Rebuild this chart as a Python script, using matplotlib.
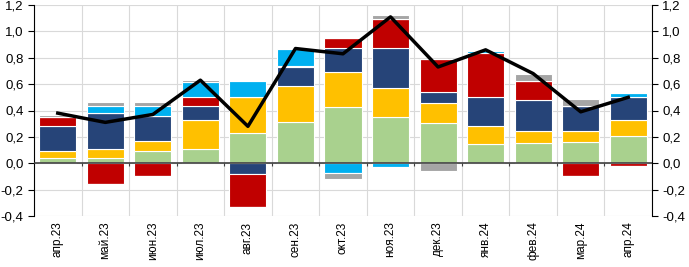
import matplotlib.pyplot as plt
import matplotlib.ticker as mticker
import numpy as np

plt.rcParams['font.family'] = ['Liberation Sans', 'DejaVu Sans']

months = ['апр.23', 'май.23', 'июн.23', 'июл.23', 'авг.23', 'сен.23', 'окт.23',
          'ноя.23', 'дек.23', 'янв.24', 'фев.24', 'мар.24', 'апр.24']

# вклады компонентов, п.п.
green  = [0.04, 0.04, 0.09, 0.106, 0.228, 0.31, 0.425, 0.35, 0.304, 0.144, 0.152, 0.16, 0.21]
yellow = [0.05, 0.065, 0.08, 0.225, 0.272, 0.277, 0.27, 0.22, 0.152, 0.14, 0.094, 0.086, 0.12]
dblue  = [0.19, 0.275, 0.19, 0.105, -0.084, 0.14, 0.177, 0.303, 0.081, 0.215, 0.234, 0.189, 0.176]
red    = [0.07, -0.157, -0.096, 0.07, -0.25, 0.013, 0.077, 0.223, 0.253, 0.336, 0.14, -0.094, -0.02]
cyan   = [0.0, 0.055, 0.075, 0.107, 0.125, 0.126, -0.071, -0.025, 0.0, 0.018, 0.0, 0.0, 0.024]
gray   = [0.013, 0.03, 0.028, 0.02, 0.0, 0.0, -0.049, 0.031, -0.058, 0.0, 0.058, 0.051, 0.0]
total  = [0.38, 0.31, 0.37, 0.63, 0.28, 0.87, 0.83, 1.11, 0.73, 0.86, 0.68, 0.39, 0.50]

series = [green, yellow, dblue, red, cyan, gray]
colors = ['#A9D18E', '#FFC000', '#264478', '#C00000', '#00B0F0', '#A5A5A5']

fig = plt.figure(figsize=(6.89, 2.67), dpi=100)
ax = fig.add_axes([34 / 689, 51 / 267, 618 / 689, 211 / 267])

x = np.arange(len(months))
pos_base = np.zeros(len(months))
neg_base = np.zeros(len(months))
for vals, c in zip(series, colors):
    v = np.array(vals)
    p = np.where(v > 0, v, 0)
    n = np.where(v < 0, v, 0)
    ax.bar(x, p, 0.78, bottom=pos_base, color=c, edgecolor='white', linewidth=0.8, zorder=2)
    ax.bar(x, n, 0.78, bottom=neg_base, color=c, edgecolor='white', linewidth=0.8, zorder=2)
    pos_base += p
    neg_base += n

ax.plot(x, total, color='black', linewidth=2.5, zorder=4)
ax.axhline(0, color='#404040', linewidth=1.2, zorder=3)

ax.set_xlim(-0.5, len(months) - 0.5)
ax.set_ylim(-0.4, 1.2)
ax.set_yticks(np.arange(-0.4, 1.21, 0.2))
fmt = mticker.FuncFormatter(lambda v, p: ('%.1f' % v).replace('.', ','))
ax.yaxis.set_major_formatter(fmt)
ax.set_xticks(x)
ax.set_xticklabels(months, rotation=90, fontsize=8.5)
ax.tick_params(axis='x', length=0, pad=4)
ax.tick_params(axis='y', labelsize=9.5, direction='out', length=4, color='black')

# сетка
for b in np.arange(-0.5, len(months), 1.0):
    ax.axvline(b, color='#D9D9D9', linewidth=0.8, zorder=0)
for yv in np.arange(-0.4, 1.21, 0.2):
    ax.axhline(yv, color='#D9D9D9', linewidth=0.8, zorder=0)
ax.vlines(np.arange(0.5, len(months) - 1, 1.0), -0.02, 0, color='#404040', linewidth=0.8, zorder=3)

for s in ['top', 'bottom', 'right']:
    ax.spines[s].set_visible(False)
ax.spines['left'].set_color('black')

ax2 = ax.twinx()
ax2.set_ylim(-0.4, 1.2)
ax2.set_yticks(np.arange(-0.4, 1.21, 0.2))
ax2.yaxis.set_major_formatter(fmt)
ax2.tick_params(axis='y', labelsize=9.5, direction='out', length=4)
for s in ['top', 'bottom', 'left']:
    ax2.spines[s].set_visible(False)

fig.savefig('out.png', dpi=100)
